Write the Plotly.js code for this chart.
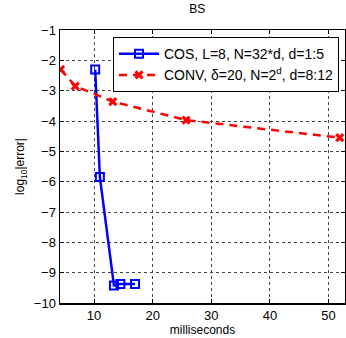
<!DOCTYPE html>
<html><head><meta charset="utf-8">
<script src="https://cdn.plot.ly/plotly-3.0.1.min.js"></script>
<style>html,body{margin:0;padding:0;background:#fff}</style>
</head><body>
<div id="chart" style="width:346px;height:338px"></div>
<script>
const cosTime = [10.2, 11.0, 13.4, 14.5, 17.0];
const cosErr = [-2.30, -5.85, -9.42, -9.37, -9.37];
const convTime = [4.3, 6.8, 13.2, 25.7, 51.9];
const convErr = [-2.30, -2.85, -3.36, -3.97, -4.55];
const cosName = 'COS, L=8, N=32*d, d=1:5';
const convName = 'CONV, δ=20, N=2<sup>d</sup>, d=8:12';
const xTicks = [10, 20, 30, 40, 50];
const yTicks = [-10, -9, -8, -7, -6, -5, -4, -3, -2, -1];

const traces = [
  {x: cosTime, y: cosErr, name: cosName, type: 'scatter', mode: 'lines+markers',
   line: {color: '#0000ff', width: 2.5},
   marker: {symbol: 'square-open', size: 8, color: '#0000ff', line: {width: 2}}},
  {x: convTime, y: convErr, name: convName, type: 'scatter', mode: 'lines+markers',
   line: {color: '#ff0000', width: 2.5, dash: '8px,6px'},
   marker: {symbol: 'x-thin-open', size: 7, color: '#ff0000', line: {width: 3, color: '#ff0000'}}}
];
const axisCommon = {
  showline: true, linecolor: '#000', linewidth: 1.5, mirror: 'allticks',
  ticks: 'inside', ticklen: 4, tickcolor: '#000', zeroline: false,
  showgrid: true, gridcolor: '#444', griddash: 'dot', gridwidth: 1,
  tickfont: {family: 'Liberation Sans, Arial, sans-serif', size: 13, color: '#000'}
};
const layout = {
  width: 346, height: 338,
  margin: {l: 60, r: 1, t: 30, b: 35},
  paper_bgcolor: '#fff', plot_bgcolor: '#fff',
  font: {family: 'Liberation Sans, Arial, sans-serif', color: '#000'},
  title: {text: 'BS', x: 0.57, xanchor: 'center', y: 0.985, yanchor: 'top',
          font: {size: 12, color: '#000'}},
  xaxis: Object.assign({}, axisCommon, {range: [4.2, 52.8], tickvals: xTicks,
    title: {text: 'milliseconds', standoff: 3, font: {size: 12}}}),
  yaxis: Object.assign({}, axisCommon, {range: [-10, -1], tickvals: yTicks,
    ticktext: yTicks.map(v => '\u2212' + Math.abs(v)),
    title: {text: 'log<sub>10</sub>|error|', standoff: 6, font: {size: 12}}}),
  legend: {x: 0.186, y: 0.974, xanchor: 'left', yanchor: 'top',
    bgcolor: '#fff', bordercolor: '#000', borderwidth: 1,
    font: {size: 14, color: '#000'}, tracegroupgap: 0, itemwidth: 40},
  showlegend: true
};
Plotly.newPlot('chart', traces, layout, {displayModeBar: false, staticPlot: true});
</script>
</body></html>
